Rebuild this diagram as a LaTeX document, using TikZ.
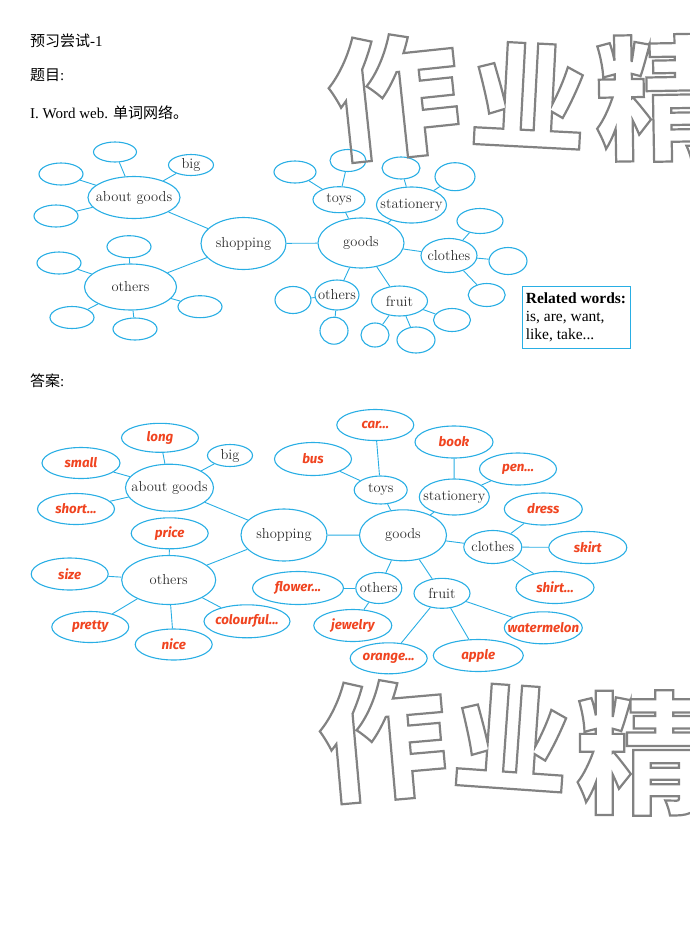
\documentclass[tikz,border=0pt]{standalone}
\usepackage{fontspec}
\usepackage{xcolor}
\usepackage{tikz}
\usetikzlibrary{shapes.geometric}

\newfontfamily\cjk{Noto Sans CJK SC}
\newfontfamily\timesf{Liberation Serif}
\newfontfamily\handfamily{Fira Sans}
\newcommand\wordfont{\fontsize{14.5}{16}\selectfont}
\newcommand\handfont{\handfamily\bfseries\itshape\fontsize{13.3}{15}\selectfont}
\newcommand\headfont{\timesf\fontsize{15}{18}\selectfont}
\newcommand\outlined[1]{\special{pdf:literal direct 1 Tr 2.2 w}#1\special{pdf:literal direct 0 Tr}}

\definecolor{webblue}{RGB}{41,174,228}
\definecolor{ansred}{RGB}{240,68,32}
\definecolor{wordgray}{RGB}{45,45,45}
\definecolor{markgray}{RGB}{130,130,130}

\begin{document}
\begin{tikzpicture}[
    x=1pt, y=-1pt,
    bubble/.style={ellipse, draw=webblue, line width=1.1pt, inner sep=-40pt, font=\wordfont, text=wordgray},
    blank/.style={bubble, minimum width=44, minimum height=22},
    answer/.style={bubble, minimum width=78, minimum height=32, font=\handfont, text=ansred},
    link/.style={draw=webblue, line width=0.9pt},
    head/.style={anchor=west, inner sep=0pt, font=\headfont, text=black},
    relbox/.style={rectangle, draw=webblue, line width=0.8pt, minimum width=108, minimum height=61.5, align=left, inner sep=3pt, font=\timesf\fontsize{15.5}{18}\selectfont},
    stamp/.style={inner sep=0pt, font=\cjk\bfseries\fontsize{#1}{#1}\selectfont, text=markgray}
]
    \useasboundingbox (0,0) rectangle (690,951);

    % Headings
    \node[head] (title) at (30,41) {{\cjk 预习尝试}-1};
    \node[head] (topic) at (30,75.5) {{\cjk 题目}:};
    \node[head] (task) at (30,112.5) {I. Word web. {\cjk 单词网络。}};
    \node[head] (key) at (30,381) {{\cjk 答案}:};

    % Question: left half
    \node[bubble, minimum width=92, minimum height=42] (about1) at (134,197.5) {about goods};
    \node[bubble, minimum width=45, minimum height=21] (big1) at (191,165) {big};
    \node[blank, minimum width=43, minimum height=20] (about1a) at (115,152) {};
    \node[blank] (about1b) at (61,174) {};
    \node[blank] (about1c) at (56,216) {};
    \node[bubble, minimum width=85, minimum height=52] (shop1) at (243.5,243.5) {shopping};
    \node[bubble, minimum width=92, minimum height=46] (others1) at (130.5,287) {others};
    \node[blank] (others1a) at (129,246.7) {};
    \node[blank] (others1b) at (59,263) {};
    \node[blank] (others1c) at (72,317.5) {};
    \node[blank] (others1d) at (135,329) {};
    \node[blank] (others1e) at (200,306.7) {};

    % Question: right half
    \node[bubble, minimum width=86, minimum height=50] (goods1) at (361,243) {goods};
    \node[bubble, minimum width=52, minimum height=26] (toys1) at (339,199.7) {toys};
    \node[blank, minimum width=36] (toys1a) at (348,160.5) {};
    \node[blank, minimum width=42] (toys1b) at (295,172) {};
    \node[bubble, minimum width=70, minimum height=36] (stat1) at (411.5,205) {stationery};
    \node[blank, minimum width=38] (stat1a) at (401,168) {};
    \node[blank, minimum width=40, minimum height=28] (stat1b) at (455,176.7) {};
    \node[bubble, minimum width=56, minimum height=34] (clothes1) at (449,255.5) {clothes};
    \node[blank, minimum width=46, minimum height=25] (clothes1a) at (480,221) {};
    \node[blank, minimum width=38, minimum height=27] (clothes1b) at (508,261) {};
    \node[blank, minimum width=37, minimum height=23] (clothes1c) at (486.7,295) {};
    \node[bubble, minimum width=44, minimum height=30] (rest1) at (337,295) {others};
    \node[blank, minimum width=36, minimum height=27] (rest1a) at (293,300) {};
    \node[blank, minimum width=28, minimum height=27] (rest1b) at (334,330.7) {};
    \node[bubble, minimum width=56, minimum height=30] (fruit1) at (399.5,301) {fruit};
    \node[blank, minimum width=28, minimum height=24] (fruit1a) at (375,335) {};
    \node[blank, minimum width=38, minimum height=26] (fruit1b) at (416,340) {};
    \node[blank, minimum width=37, minimum height=23] (fruit1c) at (452,320) {};

    \node[relbox] (related) at (576,317.5) {\textbf{Related words:}\\is, are, want,\\like, take...};

    \draw[link] (about1) -- (big1);
    \draw[link] (about1) -- (about1a);
    \draw[link] (about1) -- (about1b);
    \draw[link] (about1) -- (about1c);
    \draw[link] (about1) -- (shop1);
    \draw[link] (others1) -- (others1a);
    \draw[link] (others1) -- (others1b);
    \draw[link] (others1) -- (others1c);
    \draw[link] (others1) -- (others1d);
    \draw[link] (others1) -- (others1e);
    \draw[link] (others1) -- (shop1);
    \draw[link] (shop1) -- (goods1);
    \draw[link] (goods1) -- (toys1);
    \draw[link] (goods1) -- (stat1);
    \draw[link] (goods1) -- (clothes1);
    \draw[link] (goods1) -- (rest1);
    \draw[link] (goods1) -- (fruit1);
    \draw[link] (toys1) -- (toys1a);
    \draw[link] (toys1) -- (toys1b);
    \draw[link] (stat1) -- (stat1a);
    \draw[link] (stat1) -- (stat1b);
    \draw[link] (clothes1) -- (clothes1a);
    \draw[link] (clothes1) -- (clothes1b);
    \draw[link] (clothes1) -- (clothes1c);
    \draw[link] (rest1) -- (rest1a);
    \draw[link] (rest1) -- (rest1b);
    \draw[link] (fruit1) -- (fruit1a);
    \draw[link] (fruit1) -- (fruit1b);
    \draw[link] (fruit1) -- (fruit1c);

    % Answer: left half
    \node[bubble, minimum width=88, minimum height=47] (about2) at (169.5,487.7) {about goods};
    \node[answer, minimum width=77, minimum height=29] (long) at (160,437.8) {long};
    \node[bubble, minimum width=45, minimum height=22] (big2) at (230,455.5) {big};
    \node[answer, minimum height=31] (small) at (81,463) {small};
    \node[answer, minimum width=77, minimum height=31] (short) at (76,509) {short...};
    \node[bubble, minimum width=86, minimum height=52] (shop2) at (284,535) {shopping};
    \node[answer, minimum width=77, minimum height=31] (price) at (169.7,533.3) {price};
    \node[bubble, minimum width=94, minimum height=49] (others2) at (168.7,580) {others};
    \node[answer, minimum width=77] (size) at (69.7,574) {size};
    \node[answer, minimum width=77, minimum height=31] (pretty) at (90.3,627) {pretty};
    \node[answer, minimum width=77, minimum height=31] (nice) at (173.7,644.5) {nice};
    \node[answer, minimum width=86, minimum height=33] (colourful) at (247,621.3) {colourful...};

    % Answer: right half
    \node[bubble, minimum width=87, minimum height=51] (goods2) at (403,535.3) {goods};
    \node[bubble, minimum width=53, minimum height=28] (toys2) at (380.7,490) {toys};
    \node[answer, minimum width=77, minimum height=31] (car) at (375.3,425) {car...};
    \node[answer, minimum width=77, minimum height=33] (bus) at (313,459) {bus};
    \node[bubble, minimum width=70, minimum height=36] (stat2) at (454.3,497) {stationery};
    \node[answer] (book) at (454,442) {book};
    \node[answer, minimum width=77] (pen) at (518,469) {pen...};
    \node[bubble, minimum width=58, minimum height=33] (clothes2) at (492.8,547) {clothes};
    \node[answer] (dress) at (543.3,509) {dress};
    \node[answer] (skirt) at (587.8,547.5) {skirt};
    \node[answer] (shirt) at (555,587.5) {shirt...};
    \node[bubble, minimum width=46, minimum height=31] (rest2) at (378.8,588) {others};
    \node[answer, minimum width=91, minimum height=33] (flower) at (298,588) {flower...};
    \node[answer] (jewelry) at (352.8,625.5) {jewelry};
    \node[bubble, minimum width=56, minimum height=30] (fruit2) at (442,593.3) {fruit};
    \node[answer, minimum width=77, minimum height=31] (orange) at (388.7,658.3) {orange...};
    \node[answer, minimum width=90] (apple) at (478.3,655.5) {apple};
    \node[answer] (watermelon) at (543.3,627.8) {watermelon};

    \draw[link] (about2) -- (long);
    \draw[link] (about2) -- (big2);
    \draw[link] (about2) -- (small);
    \draw[link] (about2) -- (short);
    \draw[link] (about2) -- (shop2);
    \draw[link] (others2) -- (price);
    \draw[link] (others2) -- (size);
    \draw[link] (others2) -- (pretty);
    \draw[link] (others2) -- (nice);
    \draw[link] (others2) -- (colourful);
    \draw[link] (others2) -- (shop2);
    \draw[link] (shop2) -- (goods2);
    \draw[link] (goods2) -- (toys2);
    \draw[link] (goods2) -- (stat2);
    \draw[link] (goods2) -- (clothes2);
    \draw[link] (goods2) -- (rest2);
    \draw[link] (goods2) -- (fruit2);
    \draw[link] (toys2) -- (car);
    \draw[link] (toys2) -- (bus);
    \draw[link] (stat2) -- (book);
    \draw[link] (stat2) -- (pen);
    \draw[link] (clothes2) -- (dress);
    \draw[link] (clothes2) -- (skirt);
    \draw[link] (clothes2) -- (shirt);
    \draw[link] (rest2) -- (flower);
    \draw[link] (rest2) -- (jewelry);
    \draw[link] (fruit2) -- (orange);
    \draw[link] (fruit2) -- (apple);
    \draw[link] (fruit2) -- (watermelon);

    % Watermark
    \begin{scope}
        \clip (0,0) rectangle (690,951);
        \node[stamp=132, rotate=6] (markA1) at (394,96) {\outlined{作}};
        \node[stamp=116, rotate=-3] (markA2) at (529,95) {\outlined{业}};
        \node[stamp=134, rotate=1] (markA3) at (662,98) {\outlined{精}};
        \node[stamp=128, rotate=5] (markB1) at (383,740) {\outlined{作}};
        \node[stamp=116, rotate=-4] (markB2) at (512,737) {\outlined{业}};
        \node[stamp=132, rotate=0] (markB3) at (642,753) {\outlined{精}};
    \end{scope}
\end{tikzpicture}
\end{document}
